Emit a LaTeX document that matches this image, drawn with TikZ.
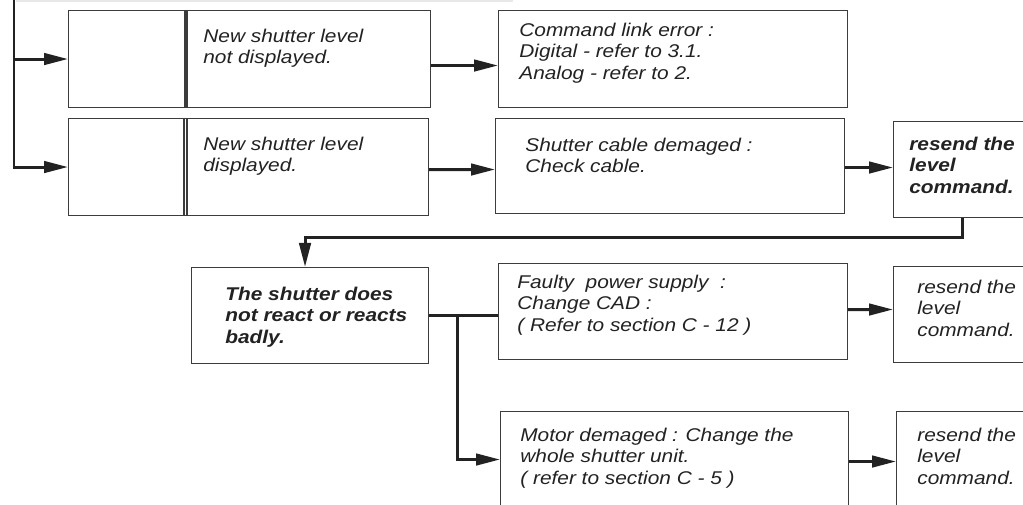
\documentclass[tikz,border=0pt]{standalone}
\usepackage{fontspec}
\newfontfamily\chartfont[FakeStretch=1.13]{Liberation Sans}
\usetikzlibrary{
  arrows.meta,
  calc,
  positioning
}
\definecolor{chartInk}{HTML}{222222}
\definecolor{chartFrame}{HTML}{3C3C3C}
\definecolor{chartRule}{HTML}{E8E8E8}
\tikzset{
  chartBox/.style={
    draw=chartFrame,
    line width=0.6pt,
    inner sep=0pt,
    anchor=north west
  },
  chartText/.style={
    anchor=north west,
    inner sep=0pt,
    align=left,
    text=chartInk,
    font=\chartfont\fontsize{10.5}{12.1}\selectfont\itshape
  },
  chartBold/.style={chartText, font=\chartfont\fontsize{10.5}{12.1}\selectfont\bfseries\itshape},
  chartLine/.style={chartInk, line width=1.7pt},
  chartArrow/.style={chartLine, -{Triangle[length=4.8mm, width=2.3mm]}},
  chartDivider/.style={draw=chartFrame, line width=0.6pt}
}

\begin{document}
\begin{tikzpicture}[x=0.2mm,y=-0.2mm]
  \clip (0,0) rectangle (1023,505);
  \fill[white] (0,0) rectangle (1023,505);
  \draw[chartRule, line width=1.2pt] (16,1) -- (513,1);

  \node[chartBox, minimum width=72.4mm, minimum height=19.4mm] (a1) at (68,10) {};
  \node[chartBox, minimum width=72mm, minimum height=19.4mm] (a2) at (68,118) {};
  \node[chartBox, minimum width=69.8mm, minimum height=19.4mm] (b1) at (498,10) {};
  \node[chartBox, minimum width=69.8mm, minimum height=19mm] (b2) at (495,118) {};
  \node[chartBox, minimum width=27.4mm, minimum height=19.2mm] (c1) at (893,121) {};
  \node[chartBox, minimum width=47.4mm, minimum height=19.2mm] (d) at (191,267) {};
  \node[chartBox, minimum width=69.8mm, minimum height=19.2mm] (e) at (498,263) {};
  \node[chartBox, minimum width=27.4mm, minimum height=19.2mm] (f) at (893,266) {};
  \node[chartBox, minimum width=69.6mm, minimum height=19.2mm] (g) at (500,411) {};
  \node[chartBox, minimum width=26.8mm, minimum height=19.2mm] (h) at (896,411) {};

  \foreach \dx in {23.4mm,23.8mm}
    \draw[chartDivider] ([xshift=\dx]a1.north west) -- ([xshift=\dx]a1.south west);
  \foreach \dx in {23.2mm,23.8mm}
    \draw[chartDivider] ([xshift=\dx]a2.north west) -- ([xshift=\dx]a2.south west);

  \node[chartText] (a1t) at ($(a1.north west)+(135,19)$)
    {New shutter level\\not displayed.};
  \node[chartText] (a2t) at ($(a2.north west)+(135,19)$)
    {New shutter level\\displayed.};
  \node[chartText] (b1t) at ($(b1.north west)+(21,13)$)
    {Command link error :\\Digital - refer to 3.1.\\Analog - refer to 2.};
  \node[chartText] (b2t) at ($(b2.north west)+(30,20)$)
    {Shutter cable demaged :\\Check cable.};
  \node[chartBold] (c1t) at ($(c1.north west)+(16,16)$)
    {resend the\\level\\command.};
  \node[chartBold] (dt) at ($(d.north west)+(34,20)$)
    {The shutter does\\not react or reacts\\badly.};
  \node[chartText] (et) at ($(e.north west)+(19,12)$)
    {Faulty\ \ power supply\ \ :\\Change CAD :\\( Refer to section C - 12 )};
  \node[chartText] (ft) at ($(f.north west)+(24,14)$)
    {resend the\\level\\command.};
  \node[chartText] (gt) at ($(g.north west)+(20,17)$)
    {Motor demaged : Change the\\whole shutter unit.\\( refer to section C - 5 )};
  \node[chartText] (ht) at ($(h.north west)+(21,17)$)
    {resend the\\level\\command.};

  \coordinate (trunkTop) at (14,0);
  \draw[chartArrow] (trunkTop) |- (a2.west);
  \draw[chartArrow] (trunkTop |- a1.west) -- (a1.west);
  \draw[chartArrow] ([yshift=-1.3mm]a1.east) -- ([yshift=-1.3mm]b1.west);
  \draw[chartArrow] ([yshift=-0.5mm]a2.east) -- ([yshift=-0.7mm]b2.west);
  \draw[chartArrow] ([yshift=-0.3mm]b2.east) -- ([yshift=0.4mm]c1.west);
  \draw[chartArrow] (c1.south) -- ++(0,19) -| ([xshift=-1mm]d.north);
  \draw[chartLine] (d.east) -- (d.east -| e.west);
  \draw[chartArrow] ([xshift=5.6mm]d.east) |- (g.west);
  \draw[chartArrow] ([yshift=0.4mm]e.east) -- ([yshift=1mm]f.west);
  \draw[chartArrow] ([yshift=-0.4mm]g.east) -- ([yshift=-0.4mm]h.west);
\end{tikzpicture}
\end{document}
